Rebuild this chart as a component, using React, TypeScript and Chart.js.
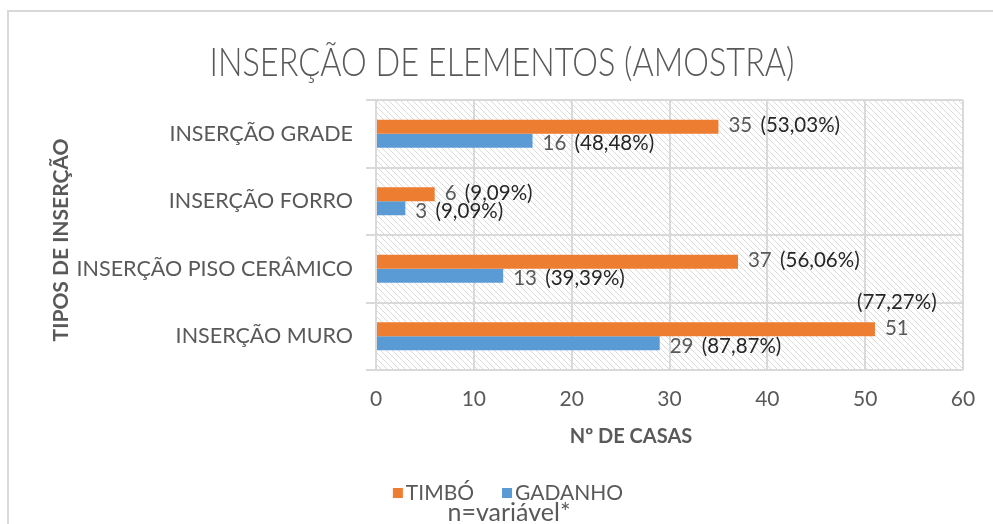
import React, { useEffect, useRef } from "react";
import { Chart, registerables } from "chart.js";

Chart.register(...registerables);

const chartTitle = "INSERÇÃO DE ELEMENTOS (AMOSTRA)";
const categories = ["INSERÇÃO GRADE", "INSERÇÃO FORRO", "INSERÇÃO PISO CERÂMICO", "INSERÇÃO MURO"];
const seriesNames = ["TIMBÓ", "GADANHO"];
const timbo = [35, 6, 37, 51];
const gadanho = [16, 3, 13, 29];
const timboPct = ["53,03%", "9,09%", "56,06%", "77,27%"];
const gadanhoPct = ["48,48%", "9,09%", "39,39%", "87,87%"];
const xTitle = "Nº DE CASAS";
const yTitle = "TIPOS DE INSERÇÃO";
const footnote = "n=variável*";
const xMin = 0;
const xMax = 60;
const xStep = 10;

const ORANGE = "#ED7D31";
const BLUE = "#5B9BD5";
const GRID = "#d9d9d9";
const TXT = "#595959";
const FONT = '"Lato", "Carlito", sans-serif';

function makePattern(ctx: CanvasRenderingContext2D) {
  const c = document.createElement("canvas");
  c.width = 6;
  c.height = 6;
  const p = c.getContext("2d")!;
  p.fillStyle = "#ffffff";
  p.fillRect(0, 0, 6, 6);
  p.fillStyle = "#dadada";
  for (let i = 0; i < 6; i++) p.fillRect(i, i, 1, 1);
  return ctx.createPattern(c, "repeat");
}

const decorPlugin = {
  id: "decor",
  beforeDraw(chart: any) {
    const { ctx, chartArea } = chart;
    ctx.save();
    ctx.fillStyle = "#ffffff";
    ctx.fillRect(0, 0, chart.width, chart.height);
    ctx.strokeStyle = GRID;
    ctx.lineWidth = 2;
    ctx.strokeRect(8, 11, chart.width + 50, chart.height + 50);
    const pat = makePattern(ctx);
    if (pat) {
      ctx.fillStyle = pat;
      ctx.fillRect(chartArea.left, chartArea.top, chartArea.right - chartArea.left, chartArea.bottom - chartArea.top);
    }
    ctx.restore();
  },
  afterDatasetsDraw(chart: any) {
    const { ctx, chartArea } = chart;
    const pcts = [timboPct, gadanhoPct];
    ctx.save();
    ctx.font = `20.5px ${FONT}`;
    ctx.textBaseline = "middle";
    ctx.textAlign = "left";
    chart.data.datasets.forEach((ds: any, di: number) => {
      const meta = chart.getDatasetMeta(di);
      const dy = di === 0 ? -1 : 3;
      meta.data.forEach((el: any, i: number) => {
        const num = String(ds.data[i]);
        const pct = `(${pcts[di][i]})`;
        const nx = el.x + 10;
        const ny = el.y + dy;
        const nw = ctx.measureText(num).width;
        const sw = ctx.measureText(" ").width + 3;
        const pw = ctx.measureText(pct).width;
        ctx.fillStyle = TXT;
        ctx.fillText(num, nx, ny);
        ctx.fillStyle = "#262626";
        if (nx + nw + sw + pw > chartArea.right - 4) {
          ctx.textAlign = "center";
          ctx.fillText(pct, Math.min(nx + nw / 2, chartArea.right - 14 - pw / 2), ny - 26);
          ctx.textAlign = "left";
        } else {
          ctx.fillText(pct, nx + nw + sw, ny);
        }
      });
    });
    ctx.restore();
  },
  afterDraw(chart: any) {
    const { ctx } = chart;
    ctx.save();
    // title
    ctx.fillStyle = TXT;
    ctx.textBaseline = "middle";
    ctx.font = `300 40px ${FONT}`;
    const tw = ctx.measureText(chartTitle).width;
    const target = 585;
    ctx.save();
    ctx.translate(502, 63);
    ctx.scale(target / tw, 1);
    ctx.textAlign = "center";
    ctx.fillText(chartTitle, 0, 0);
    ctx.restore();
    // axis titles
    ctx.font = `bold 20px ${FONT}`;
    ctx.textAlign = "center";
    ctx.fillText(xTitle, 631, 437);
    ctx.save();
    ctx.translate(61, 240);
    ctx.rotate(-Math.PI / 2);
    ctx.font = `bold 21px ${FONT}`;
    ctx.fillText(yTitle, 0, 0);
    ctx.restore();
    // legend
    ctx.font = `21px ${FONT}`;
    ctx.textAlign = "left";
    const items = chart.data.datasets.map((d: any) => ({ label: d.label, color: d.backgroundColor }));
    const box = 10;
    const gapBox = 3;
    const gapItem = 28;
    let total = 0;
    items.forEach((it: any, k: number) => {
      total += box + gapBox + ctx.measureText(it.label).width + (k < items.length - 1 ? gapItem : 0);
    });
    let lx = 508 - total / 2;
    const ly = 493;
    items.forEach((it: any) => {
      ctx.fillStyle = it.color;
      ctx.fillRect(lx, ly - box / 2, box, box);
      lx += box + gapBox;
      ctx.fillStyle = TXT;
      ctx.fillText(it.label, lx, ly);
      lx += ctx.measureText(it.label).width + gapItem;
    });
    ctx.textAlign = "center";
    ctx.font = `25px ${FONT}`;
    ctx.fillText(footnote, 509, 513);
    ctx.restore();
  },
};

export default function App() {
  const ref = useRef<HTMLCanvasElement | null>(null);
  useEffect(() => {
    if (!ref.current) return;
    const chart = new Chart(ref.current, {
      type: "bar",
      data: {
        labels: categories,
        datasets: [
          { label: seriesNames[0], data: timbo, backgroundColor: ORANGE, categoryPercentage: 0.415, barPercentage: 1 },
          { label: seriesNames[1], data: gadanho, backgroundColor: BLUE, categoryPercentage: 0.415, barPercentage: 1 },
        ],
      },
      options: {
        indexAxis: "y",
        animation: false,
        responsive: false,
        events: [],
        layout: { padding: { top: 100, right: 30, left: 0, bottom: 0 } },
        plugins: { legend: { display: false }, title: { display: false }, tooltip: { enabled: false } },
        scales: {
          x: {
            min: xMin,
            max: xMax,
            ticks: { stepSize: xStep, color: TXT, font: { family: FONT, size: 21 }, padding: 17 },
            grid: { color: GRID, lineWidth: 2, drawTicks: false },
            border: { display: false },
            afterFit(scale: any) {
              scale.height = 154;
            },
          },
          y: {
            ticks: { color: TXT, font: { family: FONT, size: 21.5 }, padding: 13 },
            grid: { color: GRID, lineWidth: 2, offset: true, drawTicks: true, tickLength: 10 },
            border: { display: true, color: GRID, width: 2 },
            afterFit(scale: any) {
              scale.width = 376;
            },
          },
        },
      },
      plugins: [decorPlugin],
    });
    return () => chart.destroy();
  }, []);
  return (
    <div style={{ position: "fixed", left: 0, top: 0, width: 993, height: 524, background: "#fff" }}>
      <canvas ref={ref} width={993} height={524} style={{ display: "block" }} />
    </div>
  );
}
